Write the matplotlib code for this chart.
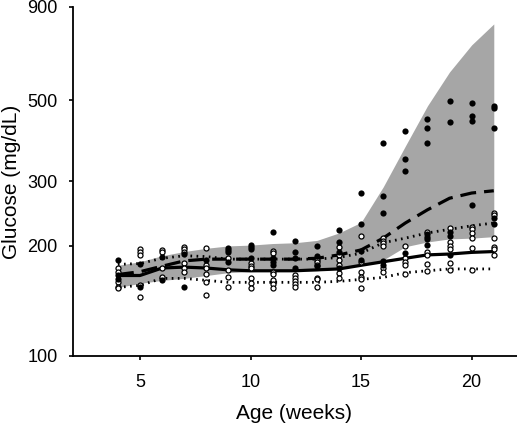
import matplotlib
matplotlib.use("Agg")
import matplotlib.pyplot as plt
from matplotlib.ticker import FixedLocator, FixedFormatter, NullLocator

plt.rcParams['font.family'] = ['Liberation Sans', 'DejaVu Sans']

weeks = list(range(4, 22))

# shaded range of the filled-dot group
band_upper = [177, 181, 188, 193, 197, 200, 201, 203, 204, 207, 217, 232, 290, 375, 483, 598, 709, 809]
band_lower = [154, 158, 161, 163, 166, 169, 170, 171, 171, 171, 173, 177, 183, 199, 205, 209, 210, 212]
# mean of the filled-dot group
filled_mean = [167, 170, 176, 182, 184, 184, 184, 184, 184, 185, 189, 195, 210, 231, 251, 270, 279, 283]
# open-dot group: mean and range
open_mean = [166, 166, 174, 175, 174, 172, 171, 171, 171, 172, 173, 177, 181, 185, 189, 190, 192, 193]
open_upper = [178, 179, 185, 188, 187, 184, 184, 184, 184, 184, 186, 191, 204, 210, 217, 222, 227, 231]
open_lower = [154, 156, 163, 163, 161, 159, 159, 159, 159, 159, 160, 162, 164, 169, 171, 173, 173, 173]

filled_x = [4, 4, 4, 5, 5, 6, 6, 7, 7, 8,
            9, 9, 9, 9, 10, 10, 10, 10, 11, 11, 11, 11,
            12, 12, 12, 12, 13, 13, 13, 14, 14, 14, 14,
            15, 15, 15, 15, 16, 16, 16, 16, 16, 17, 17, 17, 17,
            18, 18, 18, 18, 18, 18, 18, 19, 19, 19, 19, 19,
            20, 20, 20, 20, 21, 21, 21, 21, 21]
filled_y = [183, 166, 162, 178, 154, 187, 161, 190, 154, 183,
            197, 195, 192, 181, 201, 199, 196, 185, 218, 185, 181, 177,
            206, 192, 185, 174, 200, 188, 176, 221, 205, 192, 174,
            279, 230, 194, 183, 382, 274, 246, 182, 177, 412, 346, 320, 191,
            445, 420, 382, 216, 212, 209, 201, 498, 436, 218, 213, 189,
            492, 453, 439, 259, 483, 477, 420, 238, 230]

open_x = [4, 4, 4, 4, 4, 5, 5, 5, 5, 5, 6, 6, 6, 6,
          7, 7, 7, 7, 7, 7, 8, 8, 8, 8, 8, 8, 9, 9, 9, 9,
          10, 10, 10, 10, 10, 10, 11, 11, 11, 11, 11, 11, 11,
          12, 12, 12, 12, 12, 13, 13, 13, 13, 13, 13,
          14, 14, 14, 14, 14, 14, 15, 15, 15, 15, 15, 15,
          16, 16, 16, 16, 16, 16, 17, 17, 17, 17, 17,
          18, 18, 18, 18, 18, 19, 19, 19, 19, 19, 19,
          20, 20, 20, 20, 20, 20, 21, 21, 21, 21, 21, 21]
open_y = [174, 170, 159, 154, 153, 196, 192, 189, 156, 145, 195, 192, 174, 164,
          199, 196, 192, 180, 174, 170, 197, 177, 174, 168, 159, 147, 185, 172, 164, 154,
          180, 176, 174, 163, 158, 153, 194, 191, 170, 168, 161, 157, 153,
          166, 163, 160, 157, 154, 183, 181, 177, 163, 162, 154,
          199, 189, 183, 177, 169, 163, 213, 181, 170, 164, 162, 153,
          210, 206, 204, 200, 174, 170, 200, 185, 181, 177, 168,
          218, 192, 189, 178, 171, 224, 205, 200, 196, 180, 172,
          225, 222, 217, 210, 197, 172, 246, 243, 210, 199, 196, 189]

y_ticks = [100, 200, 300, 500, 900]

fig = plt.figure(figsize=(5.17, 4.24), dpi=100)
ax = fig.add_axes([0.1412, 0.1604, 0.8588, 0.8231])

ax.fill_between(weeks, band_lower, band_upper, color='#a6a6a6', lw=0, zorder=1)
ax.plot(weeks, filled_mean, color='black', lw=2.3, ls=(0, (5, 2.5)), zorder=2)
ax.plot(weeks, open_mean, color='black', lw=2.3, zorder=2)
ax.plot(weeks, open_upper, color='black', lw=2, ls=(0, (0.6, 1.6)), zorder=2)
ax.plot(weeks, open_lower, color='black', lw=2, ls=(0, (0.6, 1.6)), zorder=2)

ax.scatter(open_x, open_y, s=13, facecolor='white', edgecolor='black', lw=0.9, zorder=3)
ax.scatter(filled_x, filled_y, s=20, color='black', lw=0, zorder=4)

ax.set_yscale('log')
ax.set_ylim(100, 900)
ax.set_xlim(1.97, 22.05)
ax.yaxis.set_major_locator(FixedLocator(y_ticks))
ax.yaxis.set_major_formatter(FixedFormatter([str(t) for t in y_ticks]))
ax.yaxis.set_minor_locator(NullLocator())
ax.set_xticks([5, 10, 15, 20])

for side in ['top', 'right']:
    ax.spines[side].set_visible(False)
for side in ['left', 'bottom']:
    ax.spines[side].set_linewidth(1.3)

ax.tick_params(direction='out', length=3, width=1.2, labelsize=13)
ax.tick_params(axis='y', pad=8)
ax.tick_params(axis='x', pad=10)
ax.set_xlabel('Age (weeks)', fontsize=15)
ax.set_ylabel('Glucose (mg/dL)', fontsize=15)
ax.xaxis.set_label_coords(0.497, -0.138)
ax.yaxis.set_label_coords(-0.117, 0.5)

fig.savefig('out.png', dpi=100)
